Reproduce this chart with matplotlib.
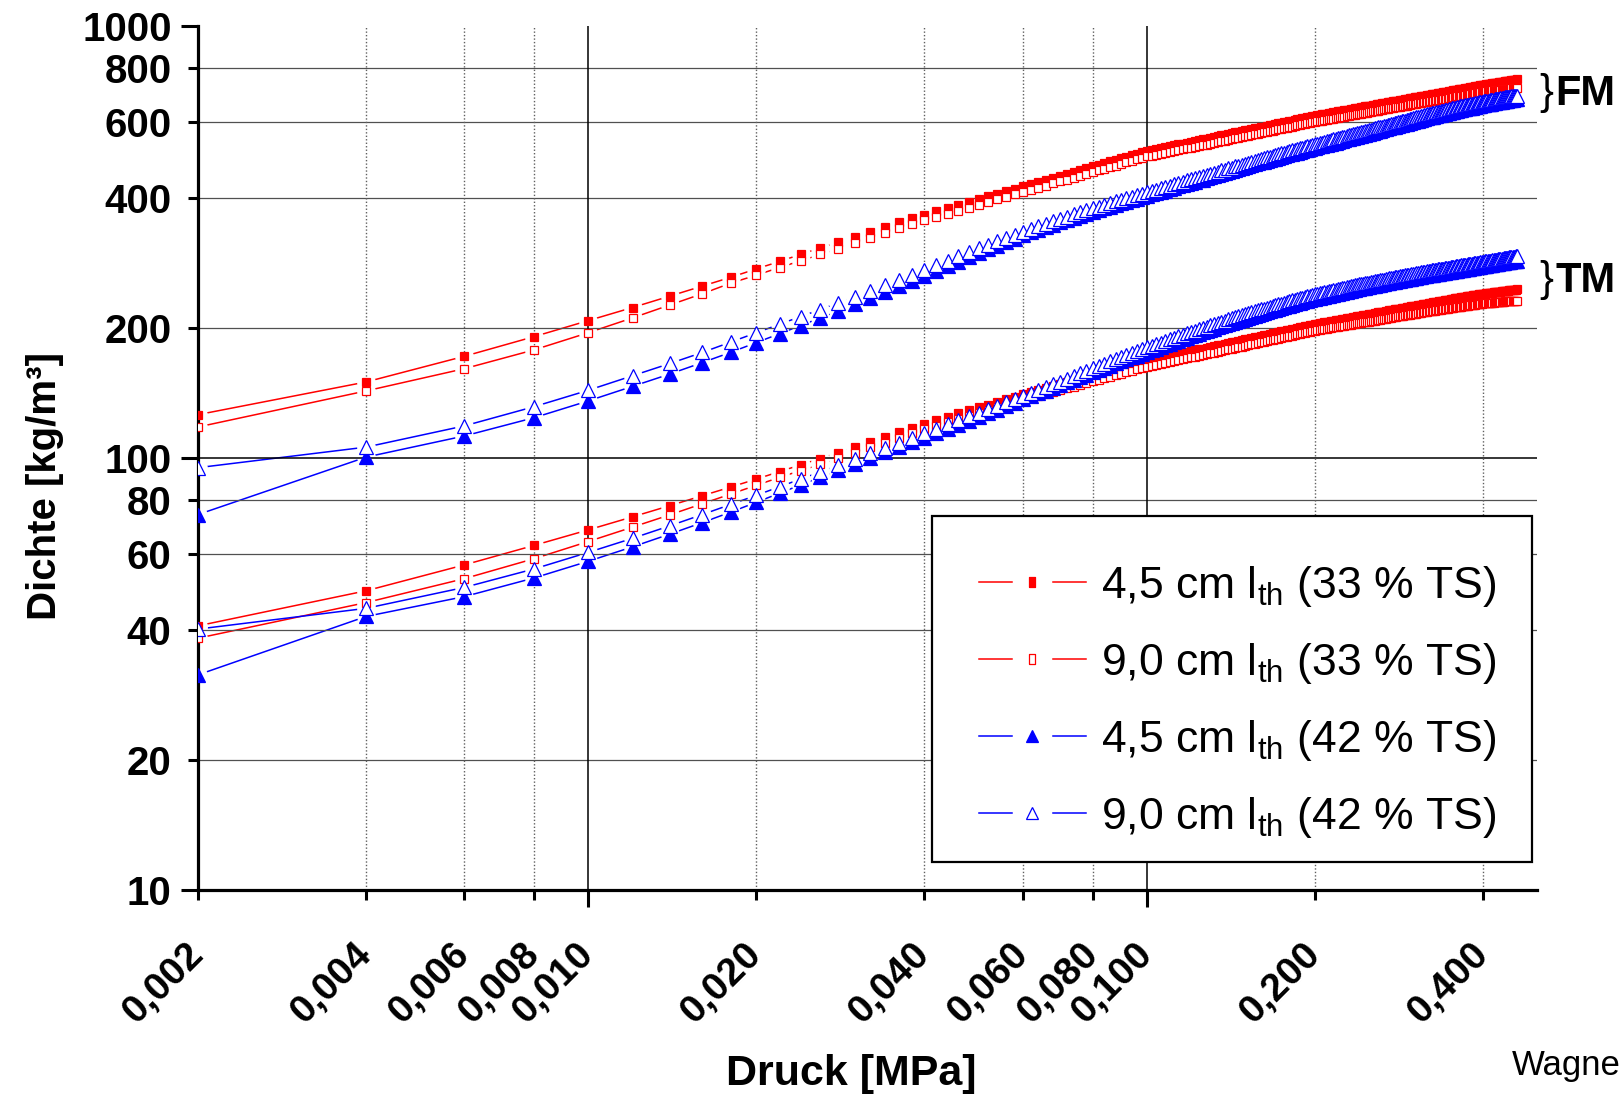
import numpy as np
import matplotlib
matplotlib.use("Agg")
import matplotlib.pyplot as plt
from matplotlib.lines import Line2D
from matplotlib.patches import Rectangle
from matplotlib.legend_handler import HandlerBase
from matplotlib.ticker import FixedLocator, FixedFormatter

# ---------------- data ----------------
# pressure grid: measurements every 0.002 MPa from 0.002 MPa up to 0.46 MPa
PRESSURE_STEP = 0.002
N_POINTS = 230

# FM group (upper curves)
FM_45_33 = [126, 150, 172, 191, 208, 223, 237, 250, 262, 274, 285, 296, 306, 316, 325, 334, 343, 351, 359, 366,
            372.7, 379.2, 385.5, 391.6, 397.6, 403.4, 409.1, 414.6, 420.0, 425.3,
            430, 435, 440, 445, 450, 455, 459, 464, 468, 473, 477, 481, 486, 490, 494, 498, 502, 506, 510, 514,
            516, 519, 521, 524, 526, 529, 532, 534, 537, 539,
            542, 544, 546, 548, 551, 553, 555, 558, 560, 562,
            564, 567, 569, 571, 573, 575, 577, 579, 581, 583,
            585, 587, 589, 591, 593, 595, 597, 599, 600, 602,
            604, 606, 608, 609, 611, 613, 615, 616, 618, 620,
            621, 623, 624, 625, 627, 628, 630, 631, 632, 634, 635, 636, 638, 639, 640, 642, 643, 644, 646, 647,
            648, 650, 651, 652, 653, 654, 656, 657, 658, 659, 660, 662, 663, 664, 665, 666, 667, 669, 670, 671,
            672, 673, 674, 675, 676, 677, 679, 680, 681, 682, 683, 684, 685, 686, 687, 688, 689, 690, 691, 692,
            693, 694, 695, 696, 697, 698, 699, 700, 701, 702, 703, 704, 705, 706, 707, 708, 709, 710, 711, 712,
            713, 714, 715, 715, 716, 717, 718, 719, 720, 721, 722, 723, 724, 725, 725, 726, 727, 728, 729, 730,
            731, 731, 732, 733, 734, 734, 735, 736, 737, 737, 738, 739, 739, 740, 741, 742, 742, 743, 744, 745,
            745, 746, 747, 747, 748, 749, 750, 750, 751, 752]

FM_90_33 = [118, 143, 161, 178, 195, 211, 226, 240, 254, 265, 276, 286, 296, 305, 314, 323, 332, 340, 348, 355,
            361.5, 367.8, 373.9, 379.9, 385.7, 391.3, 396.8, 402.2, 407.4, 412.5,
            417, 422, 427, 432, 437, 441, 445, 450, 454, 459, 463, 467, 471, 475, 479, 483, 487, 491, 495, 499,
            500, 503, 505, 508, 510, 513, 516, 518, 521, 523,
            525, 527, 529, 531, 534, 536, 538, 541, 543, 545,
            547, 549, 551, 553, 555, 557, 559, 561, 563, 565,
            567, 569, 570, 572, 574, 576, 578, 580, 581, 583,
            585, 587, 589, 590, 592, 594, 595, 597, 598, 600,
            601, 603, 604, 605, 607, 608, 609, 610, 611, 613, 614, 615, 617, 618, 619, 621, 622, 623, 625, 626,
            627, 628, 629, 630, 631, 632, 634, 635, 636, 637, 638, 640, 641, 642, 643, 644, 645, 647, 648, 649,
            649, 650, 651, 652, 653, 654, 656, 657, 658, 659, 660, 661, 662, 663, 664, 665, 666, 667, 668, 668,
            669, 670, 671, 672, 673, 674, 675, 676, 676, 677, 678, 679, 680, 681, 682, 683, 684, 685, 686, 687,
            688, 689, 690, 690, 691, 692, 693, 693, 694, 695, 696, 697, 698, 699, 699, 700, 701, 702, 703, 704,
            704, 705, 706, 706, 707, 707, 708, 709, 709, 710, 710, 711, 711, 712, 712, 713, 713, 714, 714, 715,
            715, 716, 716, 717, 717, 718, 718, 719, 719, 720]

FM_45_42 = [74, 100.5, 112.5, 124, 135.6, 146.5, 156.5, 166.3, 175.7, 185, 194, 202.5, 211, 219, 227, 235, 242.5, 250, 257, 264,
            271.1, 278.1, 284.9, 291.6, 298.2, 304.2, 310.2, 316.1, 322.1, 328.1,
            332.8, 337.5, 342.2, 346.9, 351.6, 355.6, 359.6, 363.5, 367.5, 371.5, 375, 378.5, 382, 385.5, 389, 392.1, 395.2, 398.4, 401.5, 404.6,
            408, 410, 413, 416, 419, 422, 425, 428, 431, 434,
            436, 439, 441, 444, 446, 449, 452, 454, 457, 459,
            462, 464, 466, 469, 471, 474, 476, 478, 481, 483,
            485, 487, 489, 491, 493, 495, 497, 499, 502, 504,
            505, 507, 509, 511, 513, 515, 517, 519, 521, 522,
            524, 526, 527, 529, 531, 532, 534, 536, 537, 539, 541, 542, 544, 546, 548, 549, 551, 553, 554, 556,
            557, 559, 560, 562, 563, 565, 566, 568, 570, 571, 572, 574, 576, 577, 579, 580, 582, 583, 585, 586,
            588, 589, 590, 592, 593, 594, 596, 597, 599, 600, 601, 603, 604, 606, 607, 608, 610, 611, 612, 614,
            615, 616, 617, 618, 620, 621, 622, 623, 624, 625, 627, 628, 629, 630, 631, 632, 633, 635, 636, 637,
            638, 639, 640, 641, 642, 643, 644, 645, 645, 646, 647, 648, 649, 650, 651, 652, 653, 654, 655, 656,
            657, 658, 658, 659, 660, 661, 661, 662, 663, 664, 665, 665, 666, 667, 668, 668, 669, 670, 671, 671,
            672, 673, 673, 674, 675, 675, 676, 676, 677, 678]

FM_90_42 = [95, 106, 118.7, 131.5, 143.5, 155, 165.5, 175.5, 185.5, 195, 204, 212.5, 220.5, 228.5, 236, 243.5, 251, 258, 265, 272,
            279.1, 286.1, 292.9, 299.6, 306.2, 311.8, 317.4, 323.0, 328.6, 334.2,
            339.0, 343.8, 348.5, 353.3, 358.1, 362.2, 366.2, 370.3, 374.3, 378.4, 382.0, 385.6, 389.1, 392.7, 396.3, 399.5, 402.6, 405.8, 409.0, 412.1,
            415, 418, 421, 424, 427, 430, 433, 436, 439, 442,
            444, 447, 449, 452, 455, 457, 460, 463, 465, 468,
            470, 473, 475, 477, 480, 482, 485, 487, 490, 492,
            494, 496, 498, 500, 503, 505, 507, 509, 511, 513,
            515, 517, 519, 521, 523, 524, 526, 528, 530, 532,
            534, 536, 537, 539, 541, 542, 544, 546, 547, 549, 551, 553, 554, 556, 558, 559, 561, 563, 565, 566,
            568, 569, 571, 572, 574, 575, 577, 579, 580, 582, 583, 585, 586, 588, 589, 591, 592, 594, 595, 597,
            598, 600, 601, 603, 604, 605, 607, 608, 610, 611, 612, 614, 615, 617, 618, 620, 621, 622, 624, 625,
            626, 628, 629, 630, 631, 632, 633, 635, 636, 637, 638, 639, 640, 642, 643, 644, 645, 646, 647, 649,
            650, 651, 652, 653, 654, 655, 656, 656, 657, 658, 659, 660, 661, 662, 663, 664, 665, 666, 667, 668,
            669, 670, 671, 671, 672, 673, 674, 675, 675, 676, 677, 678, 678, 679, 680, 681, 682, 682, 683, 684,
            685, 685, 686, 686, 687, 688, 688, 689, 690, 690]

# TM group (lower curves)
TM_45_33 = [40.9, 49.3, 56.6, 62.8, 68.2, 73.1, 77.6, 81.8, 85.7, 89.4, 93.0, 96.4, 99.7, 102.9, 106.1, 109.1, 112.0, 114.8, 117.5, 120.1,
            122.4, 124.6, 126.8, 128.9, 131.0, 133.0, 135.0, 136.9, 138.8, 140.6,
            142.1, 143.7, 145.2, 146.8, 148.3, 149.7, 151.1, 152.4, 153.8, 155.2, 156.5, 157.8, 159.2, 160.5, 161.8, 163.0, 164.2, 165.5, 166.7, 167.9,
            168.8, 169.7, 170.6, 171.5, 172.4, 173.2, 174.1, 175.0, 175.9, 176.8,
            177.6, 178.4, 179.1, 179.9, 180.7, 181.5, 182.3, 183.0, 183.8, 184.6,
            185.3, 186.0, 186.7, 187.4, 188.2, 188.9, 189.6, 190.3, 191.0, 191.7,
            192.4, 193.0, 193.7, 194.3, 195.0, 195.6, 196.3, 196.9, 197.6, 198.2,
            198.8, 199.4, 200.0, 200.6, 201.2, 201.8, 202.4, 203.0, 203.6, 204.2,
            204.7, 205.1, 205.6, 206.0, 206.5, 206.9, 207.4, 207.8, 208.3, 208.7, 209.2, 209.6, 210.1, 210.5, 211.0, 211.4, 211.9, 212.3, 212.8, 213.2,
            213.6, 214.0, 214.4, 214.8, 215.2, 215.6, 216.0, 216.4, 216.8, 217.2, 217.5, 217.9, 218.3, 218.7, 219.1, 219.5, 219.9, 220.3, 220.7, 221.1,
            221.5, 221.8, 222.2, 222.5, 222.9, 223.2, 223.6, 223.9, 224.3, 224.7, 225.0, 225.4, 225.7, 226.1, 226.4, 226.8, 227.1, 227.5, 227.8, 228.2,
            228.5, 228.8, 229.2, 229.5, 229.8, 230.1, 230.4, 230.8, 231.1, 231.4, 231.7, 232.0, 232.4, 232.7, 233.0, 233.3, 233.6, 234.0, 234.3, 234.6,
            234.9, 235.1, 235.4, 235.7, 235.9, 236.2, 236.5, 236.7, 237.0, 237.3, 237.5, 237.8, 238.0, 238.3, 238.6, 238.8, 239.1, 239.4, 239.6, 239.9,
            240.1, 240.3, 240.5, 240.7, 240.9, 241.1, 241.3, 241.5, 241.7, 241.9, 242.0, 242.2, 242.4, 242.6, 242.8, 243.0, 243.2, 243.4, 243.6, 243.8,
            244.0, 244.1, 244.3, 244.5, 244.7, 244.8, 245.0, 245.2, 245.3, 245.5]

TM_90_33 = [38.3, 46.3, 52.6, 58.5, 64.1, 69.2, 73.9, 78.4, 82.6, 86.5, 90.2, 93.5, 96.7, 99.8, 102.9, 105.8, 108.6, 111.4, 114.0, 116.5,
            118.7, 120.9, 123.0, 125.0, 127.1, 129.0, 131.0, 132.8, 134.6, 136.4,
            137.7, 139.2, 140.7, 142.2, 143.7, 145.1, 146.4, 147.7, 149.0, 150.4, 151.6, 152.9, 154.3, 155.5, 156.8, 157.9, 159.1, 160.4, 161.5, 162.4,
            163.1, 164.0, 164.9, 165.8, 166.6, 167.4, 168.3, 169.1, 170.0, 170.9,
            171.6, 172.4, 173.1, 173.9, 174.6, 175.4, 176.2, 176.9, 177.6, 178.4,
            179.1, 179.8, 180.4, 181.1, 181.9, 182.6, 183.2, 183.9, 184.6, 185.3,
            186.0, 186.5, 187.2, 187.8, 188.5, 189.0, 189.7, 190.3, 191.0, 191.6,
            192.0, 192.6, 193.2, 193.8, 194.4, 194.9, 195.5, 196.1, 196.7, 197.3,
            197.7, 198.1, 198.5, 198.9, 199.3, 199.7, 200.1, 200.5, 200.9, 201.3, 201.7, 202.1, 202.5, 202.9, 203.3, 203.7, 204.1, 204.5, 204.9, 205.3,
            205.6, 206.0, 206.3, 206.7, 207.0, 207.4, 207.7, 208.1, 208.4, 208.8, 209.1, 209.5, 209.8, 210.2, 210.5, 210.9, 211.2, 211.6, 211.9, 212.3,
            212.6, 212.9, 213.2, 213.5, 213.8, 214.1, 214.4, 214.7, 215.0, 215.4, 215.7, 216.0, 216.3, 216.6, 216.9, 217.2, 217.5, 217.8, 218.1, 218.4,
            218.7, 218.9, 219.2, 219.4, 219.7, 220.0, 220.2, 220.5, 220.7, 221.0, 221.3, 221.5, 221.8, 222.0, 222.3, 222.6, 222.8, 223.1, 223.3, 223.6,
            223.8, 224.0, 224.2, 224.5, 224.7, 224.9, 225.1, 225.3, 225.5, 225.8, 226.0, 226.2, 226.4, 226.6, 226.8, 227.0, 227.3, 227.5, 227.7, 227.9,
            228.0, 228.2, 228.3, 228.4, 228.5, 228.7, 228.8, 228.9, 229.0, 229.2, 229.3, 229.4, 229.5, 229.7, 229.8, 229.9, 230.0, 230.2, 230.3, 230.4,
            230.5, 230.6, 230.7, 230.8, 230.9, 230.9, 231.0, 231.1, 231.2, 231.3]

TM_45_42 = [31.5, 43.0, 47.8, 52.8, 57.7, 62.3, 66.7, 70.9, 75.0, 79.0, 82.9, 86.6, 90.2, 93.7, 97.1, 100.2, 103.2, 106.0, 108.7, 111.2,
            114.0, 116.8, 119.4, 122.0, 124.5, 127.0, 129.4, 131.9, 134.3, 136.8,
            139.0, 141.1, 143.3, 145.4, 147.6, 149.6, 151.7, 153.7, 155.8, 157.8, 159.7, 161.7, 163.6, 165.6, 167.5, 169.2, 171.0, 172.7, 174.5, 176.2,
            177.7, 179.2, 180.8, 182.3, 183.8, 185.3, 186.8, 188.4, 189.9, 191.4,
            192.7, 194.0, 195.4, 196.7, 198.0, 199.3, 200.6, 202.0, 203.3, 204.6,
            205.7, 206.8, 208.0, 209.1, 210.2, 211.3, 212.4, 213.6, 214.7, 215.8,
            216.8, 217.7, 218.7, 219.6, 220.6, 221.6, 222.5, 223.5, 224.4, 225.4,
            226.3, 227.1, 228.0, 228.8, 229.7, 230.5, 231.4, 232.2, 233.1, 233.9,
            234.5, 235.2, 235.8, 236.4, 237.1, 237.7, 238.3, 239.0, 239.6, 240.3, 240.9, 241.5, 242.2, 242.8, 243.4, 244.1, 244.7, 245.3, 246.0, 246.6,
            247.1, 247.6, 248.1, 248.6, 249.1, 249.5, 250.0, 250.5, 251.0, 251.5, 252.0, 252.5, 253.0, 253.5, 254.0, 254.4, 254.9, 255.4, 255.9, 256.4,
            256.8, 257.3, 257.7, 258.1, 258.5, 259.0, 259.4, 259.8, 260.2, 260.7, 261.1, 261.5, 261.9, 262.4, 262.8, 263.2, 263.6, 264.1, 264.5, 264.9,
            265.2, 265.6, 265.9, 266.2, 266.6, 266.9, 267.2, 267.6, 267.9, 268.3, 268.6, 268.9, 269.3, 269.6, 269.9, 270.3, 270.6, 270.9, 271.3, 271.6,
            271.9, 272.2, 272.6, 272.9, 273.2, 273.5, 273.8, 274.2, 274.5, 274.8, 275.1, 275.4, 275.8, 276.1, 276.4, 276.7, 277.0, 277.4, 277.7, 278.0,
            278.3, 278.6, 278.9, 279.2, 279.5, 279.7, 280.0, 280.3, 280.6, 280.9, 281.2, 281.5, 281.8, 282.1, 282.4, 282.6, 282.9, 283.2, 283.5, 283.8,
            284.1, 284.3, 284.6, 284.8, 285.1, 285.4, 285.6, 285.9, 286.1, 286.4]

TM_90_42 = [40.2, 44.9, 50.2, 55.4, 60.5, 65.2, 69.7, 74.0, 78.1, 82.0, 85.8, 89.4, 92.9, 96.2, 99.4, 102.5, 105.5, 108.5, 111.4, 114.3,
            117.0, 119.7, 122.3, 124.9, 127.4, 129.8, 132.2, 134.5, 136.9, 139.3,
            141.5, 143.7, 145.9, 148.1, 150.3, 152.5, 154.7, 157.0, 159.2, 161.4, 163.4, 165.4, 167.4, 169.4, 171.4, 173.2, 175.0, 176.7, 178.5, 180.3,
            181.9, 183.4, 185.0, 186.5, 188.1, 189.7, 191.2, 192.8, 194.3, 195.9,
            197.3, 198.6, 199.9, 201.3, 202.7, 204.0, 205.4, 206.7, 208.1, 209.4,
            210.5, 211.7, 212.8, 214.0, 215.1, 216.2, 217.4, 218.5, 219.7, 220.8,
            221.8, 222.8, 223.8, 224.8, 225.8, 226.7, 227.7, 228.7, 229.7, 230.7,
            231.6, 232.4, 233.3, 234.1, 235.0, 235.9, 236.7, 237.6, 238.4, 239.3,
            239.9, 240.6, 241.3, 241.9, 242.6, 243.2, 243.9, 244.5, 245.2, 245.8, 246.5, 247.1, 247.8, 248.4, 249.1, 249.7, 250.4, 251.0, 251.7, 252.3,
            252.8, 253.3, 253.8, 254.3, 254.8, 255.3, 255.8, 256.3, 256.8, 257.4, 257.9, 258.4, 258.9, 259.4, 259.9, 260.4, 260.9, 261.4, 261.9, 262.4,
            262.8, 263.3, 263.7, 264.1, 264.6, 265.0, 265.4, 265.8, 266.3, 266.7, 267.1, 267.6, 268.0, 268.4, 268.9, 269.3, 269.7, 270.1, 270.6, 271.0,
            271.4, 271.7, 272.1, 272.4, 272.8, 273.1, 273.5, 273.8, 274.2, 274.5, 274.9, 275.2, 275.6, 275.9, 276.3, 276.6, 277.0, 277.3, 277.7, 278.0,
            278.3, 278.6, 279.0, 279.3, 279.6, 279.9, 280.2, 280.6, 280.9, 281.2, 281.5, 281.8, 282.2, 282.5, 282.8, 283.1, 283.4, 283.8, 284.1, 284.4,
            284.7, 285.0, 285.3, 285.6, 285.9, 286.2, 286.5, 286.8, 287.1, 287.4, 287.7, 288.0, 288.3, 288.6, 288.9, 289.2, 289.5, 289.8, 290.1, 290.4,
            290.7, 291.0, 291.2, 291.5, 291.8, 292.0, 292.3, 292.6, 292.9, 293.1]

LEGEND_LABELS = [r"4,5 cm l$_{\mathrm{th}}$ (33 % TS)", r"9,0 cm l$_{\mathrm{th}}$ (33 % TS)",
                 r"4,5 cm l$_{\mathrm{th}}$ (42 % TS)", r"9,0 cm l$_{\mathrm{th}}$ (42 % TS)"]

X_MAJOR = [0.01, 0.1]
X_MAJOR_LABELS = ["0,010", "0,100"]
X_MINOR = [0.002, 0.004, 0.006, 0.008, 0.02, 0.04, 0.06, 0.08, 0.2, 0.4]
X_MINOR_LABELS = ["0,002", "0,004", "0,006", "0,008", "0,020", "0,040", "0,060", "0,080", "0,200", "0,400"]
Y_MAJOR = [10, 100, 1000]
Y_MAJOR_LABELS = ["10", "100", "1000"]
Y_MINOR = [20, 40, 60, 80, 200, 400, 600, 800]
Y_MINOR_LABELS = ["20", "40", "60", "80", "200", "400", "600", "800"]

# ---------------- styling ----------------
plt.rcParams['font.family'] = ['Liberation Sans', 'DejaVu Sans']
plt.rcParams['mathtext.fontset'] = 'custom'
plt.rcParams['mathtext.rm'] = 'Liberation Sans'
plt.rcParams['mathtext.it'] = 'Liberation Sans:italic'
plt.rcParams['mathtext.bf'] = 'Liberation Sans:bold'

RED = "#FF0000"
BLUE = "#0000FF"

pressure = np.arange(1, N_POINTS + 1) * PRESSURE_STEP

fig = plt.figure(figsize=(16.23, 10.95), dpi=100)
ax = fig.add_axes([198 / 1623, 1 - 890.2 / 1095, (1537 - 198) / 1623, (890.2 - 25.9) / 1095])
ax.set_xscale('log')
ax.set_yscale('log')
ax.set_xlim(0.002, 0.5)
ax.set_ylim(10, 1000)

SQ = 5.6
TRI = 9.8
styles = [  # (values, marker, colour, filled, size)
    (FM_45_33, 's', RED, True, SQ),
    (FM_90_33, 's', RED, False, SQ),
    (FM_45_42, '^', BLUE, True, TRI),
    (FM_90_42, '^', BLUE, False, TRI),
    (TM_45_33, 's', RED, True, SQ),
    (TM_90_33, 's', RED, False, SQ),
    (TM_45_42, '^', BLUE, True, TRI),
    (TM_90_42, '^', BLUE, False, TRI),
]

for i, (vals, mk, col, filled, ms) in enumerate(styles):
    y = np.asarray(vals, dtype=float)
    x = pressure[:len(y)]
    ax.plot(x, y, '-', color=col, lw=1.1, zorder=1.0)
    ax.plot(x, y, 'o', ls='none', ms=13.5, color='white', mec='none', zorder=1.5)
    ax.plot(x, y, mk, ls='none', ms=ms, mfc=col if filled else 'white', mec=col,
            mew=0.9, zorder=3 + i * 0.01)

# grid (drawn above the gap halos, below the markers)
for yv in [20, 40, 60, 80, 200, 400, 600, 800]:
    ax.axhline(yv, color='#505050', lw=0.9, zorder=1.8)
ax.axhline(100, color='black', lw=1.1, zorder=1.8)
for xv in [0.01, 0.1]:
    ax.axvline(xv, color='black', lw=1.1, zorder=1.8)
for xv in [0.004, 0.006, 0.008, 0.02, 0.04, 0.06, 0.08, 0.2, 0.4]:
    ax.axvline(xv, color='#606060', lw=1.0, ls=(0, (1, 1.5)), zorder=1.8)

# spines
for s in ['top', 'right']:
    ax.spines[s].set_visible(False)
for s in ['left', 'bottom']:
    ax.spines[s].set_linewidth(2.3)
    ax.spines[s].set_color('black')

# ticks
ax.xaxis.set_major_locator(FixedLocator(X_MAJOR))
ax.xaxis.set_major_formatter(FixedFormatter(X_MAJOR_LABELS))
ax.xaxis.set_minor_locator(FixedLocator(X_MINOR))
ax.xaxis.set_minor_formatter(FixedFormatter(X_MINOR_LABELS))
ax.yaxis.set_major_locator(FixedLocator(Y_MAJOR))
ax.yaxis.set_major_formatter(FixedFormatter(Y_MAJOR_LABELS))
ax.yaxis.set_minor_locator(FixedLocator(Y_MINOR))
ax.yaxis.set_minor_formatter(FixedFormatter(Y_MINOR_LABELS))

ax.tick_params(axis='both', which='both', direction='out', width=2.2, color='black')
ax.tick_params(axis='x', which='both', labelsize=28)
ax.tick_params(axis='y', which='both', labelsize=29)
ax.tick_params(axis='x', which='major', length=12, pad=30)
ax.tick_params(axis='x', which='minor', length=7, pad=35)
ax.tick_params(axis='y', which='major', length=12, pad=7)
ax.tick_params(axis='y', which='minor', length=7, pad=12)

for lab in ax.get_xticklabels(which='both'):
    lab.set_rotation(45)
    lab.set_ha('right')
    lab.set_va('center')
    lab.set_rotation_mode('anchor')
    lab.set_fontweight('bold')
for lab in ax.get_yticklabels(which='both'):
    lab.set_fontweight('bold')

ax.set_xlabel('Druck [MPa]', fontsize=31, fontweight='bold')
ax.xaxis.set_label_coords(0.4877, -0.19)
ax.set_ylabel('Dichte [kg/m³]', fontsize=29, fontweight='bold')
ax.yaxis.set_label_coords(-0.10, 0.4675)


# legend with gapped line handles
class GapLineHandler(HandlerBase):
    def __init__(self, marker, color, filled, ms):
        super().__init__()
        self.marker, self.color, self.filled, self.ms = marker, color, filled, ms

    def create_artists(self, legend, orig_handle, xdescent, ydescent, width, height,
                       fontsize, trans):
        y = (height - ydescent) / 2.0
        x0 = -xdescent
        x1 = -xdescent + width
        xm = (x0 + x1) / 2.0
        gap = 0.19 * width
        l1 = Line2D([x0, xm - gap], [y, y], color=self.color, lw=1.1)
        l2 = Line2D([xm + gap, x1], [y, y], color=self.color, lw=1.1)
        m = Line2D([xm], [y], marker=self.marker, ls='none', ms=self.ms,
                   mfc=self.color if self.filled else 'white', mec=self.color, mew=0.9)
        for a in (l1, l2, m):
            a.set_transform(trans)
        return [l1, l2, m]


TALL_RECT = [(-0.33, -0.5), (0.33, -0.5), (0.33, 0.5), (-0.33, 0.5), (-0.33, -0.5)]
handles = []
hmap = {}
for (vals, mk, col, filled, ms), lab in zip(styles[:4], LEGEND_LABELS):
    h = Line2D([], [], color=col)
    handles.append(h)
    if mk == 's':
        hmap[h] = GapLineHandler(TALL_RECT, col, filled, 6.8)
    else:
        hmap[h] = GapLineHandler('^', col, filled, 8.3)

# legend frame (white box with black border)
ax.add_patch(Rectangle((0.5479, 0.0326), 0.9963 - 0.5479, 0.4335 - 0.0326,
                       transform=ax.transAxes, facecolor='white', edgecolor='black',
                       lw=1.6, zorder=9, clip_on=False))
leg = ax.legend(handles, LEGEND_LABELS, handler_map=hmap, loc='center',
                bbox_to_anchor=(0.7766, 0.2180), borderaxespad=0, fontsize=32,
                handlelength=2.4, handletextpad=0.35, labelspacing=0.72, borderpad=0.3,
                frameon=False)
leg.set_zorder(10)

# group annotations and credit
fig.text(1546 / 1623, 1 - 93 / 1095, '}', fontsize=30, ha='center', va='center')
fig.text(1555 / 1623, 1 - 94 / 1095, 'FM', fontsize=30, fontweight='bold', ha='left', va='center')
fig.text(1546 / 1623, 1 - 280 / 1095, '}', fontsize=30, ha='center', va='center')
fig.text(1555 / 1623, 1 - 281 / 1095, 'TM', fontsize=30, fontweight='bold', ha='left', va='center')
fig.text(1621 / 1623, 1 - 1066 / 1095, 'Wagne', fontsize=25, ha='right', va='center')

fig.savefig('out.png', dpi=100, facecolor='white')
